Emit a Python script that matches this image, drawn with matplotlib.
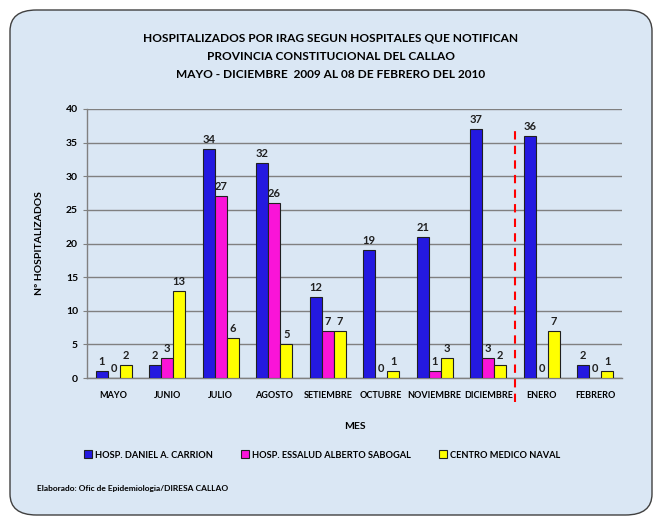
import matplotlib
matplotlib.use("Agg")
import matplotlib.pyplot as plt
from matplotlib.patches import FancyBboxPatch
import numpy as np

meses = ["MAYO", "JUNIO", "JULIO", "AGOSTO", "SETIEMBRE", "OCTUBRE",
         "NOVIEMBRE", "DICIEMBRE", "ENERO", "FEBRERO"]
carrion = [1, 2, 34, 32, 12, 19, 21, 37, 36, 2]
sabogal = [0, 3, 27, 26, 7, 0, 1, 3, 0, 0]
naval = [2, 13, 6, 5, 7, 1, 3, 2, 7, 1]
series_names = ["HOSP. DANIEL A. CARRION", "HOSP. ESSALUD ALBERTO SABOGAL", "CENTRO MEDICO NAVAL"]
colors = ["#2419E0", "#FA14D8", "#FFFF00"]

plt.rcParams['font.family'] = ['Lato', 'DejaVu Sans']

fig = plt.figure(figsize=(6.62, 5.25), dpi=100)
fig.patch.set_facecolor("white")

# rounded background panel
bg = FancyBboxPatch((10/662, 10/525), 642/662, 505/525,
                    boxstyle="round,pad=0,rounding_size=0.04",
                    transform=fig.transFigure, facecolor="#DAE7F4",
                    edgecolor="#404040", linewidth=1.0, zorder=-10)
fig.patches.append(bg)

ax = fig.add_axes([87/662, 1 - 378/525, 535/662, 269/525])
ax.set_facecolor("none")
ax.set_zorder(2)

x = np.arange(len(meses))
w = 0.225
for i, (vals, col) in enumerate(zip([carrion, sabogal, naval], colors)):
    pos = x + (i - 1) * w
    ax.bar(pos, vals, width=w, color=col, edgecolor="#202020",
           linewidth=0.8, label=series_names[i], zorder=3)
    for p, v in zip(pos, vals):
        ax.text(p, v + 0.6, str(v), ha="center", va="bottom",
                fontsize=8, fontweight="bold", color="#202020", zorder=4)

ax.set_xlim(-0.5, len(meses) - 0.5)
ax.set_ylim(0, 40)
ax.set_yticks(range(0, 41, 5))
ax.yaxis.grid(True, color="#808080", linewidth=1.0, zorder=1)
ax.set_axisbelow(True)
ax.set_xticks(x)
ax.set_xticklabels(meses, fontsize=6.5, fontweight="bold")
ax.tick_params(axis="y", labelsize=7.5, length=3, color="#808080")
for lbl in ax.get_yticklabels():
    lbl.set_fontweight("bold")
ax.tick_params(axis="x", length=0, pad=9)
for s in ["top", "right"]:
    ax.spines[s].set_visible(False)
ax.spines["left"].set_color("#808080")
ax.spines["bottom"].set_color("#808080")
ax.spines["left"].set_linewidth(1.0)
ax.spines["bottom"].set_linewidth(1.0)

# dashed separator between DICIEMBRE and ENERO
ax.plot([7.5, 7.5], [-3.6, 36.8], color="#FF0000", linestyle=(0, (4, 3)),
        linewidth=1.5, clip_on=False, zorder=5)

ax.set_xlabel("MES", fontsize=7.5, fontweight="bold", labelpad=16)
ax.set_ylabel("Nº HOSPITALIZADOS", fontsize=7.5, fontweight="bold", labelpad=16)

fig.text(331/662, 1 - 38/525, "HOSPITALIZADOS POR IRAG SEGUN HOSPITALES QUE NOTIFICAN",
         ha="center", va="center", fontsize=8.6, fontweight="bold")
fig.text(331/662, 1 - 56/525, "PROVINCIA CONSTITUCIONAL DEL CALLAO",
         ha="center", va="center", fontsize=8.6, fontweight="bold")
fig.text(331/662, 1 - 75/525, "MAYO - DICIEMBRE  2009 AL 08 DE FEBRERO DEL 2010",
         ha="center", va="center", fontsize=8.6, fontweight="bold")

fig.legend(loc="center", bbox_to_anchor=(322/662, 1 - 455/525), ncol=3,
           frameon=False, handlelength=0.9, handleheight=0.9,
           handletextpad=0.3, columnspacing=3.0, prop={"weight": "bold", "size": 6.65})

fig.text(37/662, 1 - 489/525, "Elaborado: Ofic de Epidemiologia/DIRESA CALLAO",
         ha="left", va="center", fontsize=6, fontweight="bold")

fig.savefig("out.png", dpi=100, facecolor=fig.get_facecolor())
